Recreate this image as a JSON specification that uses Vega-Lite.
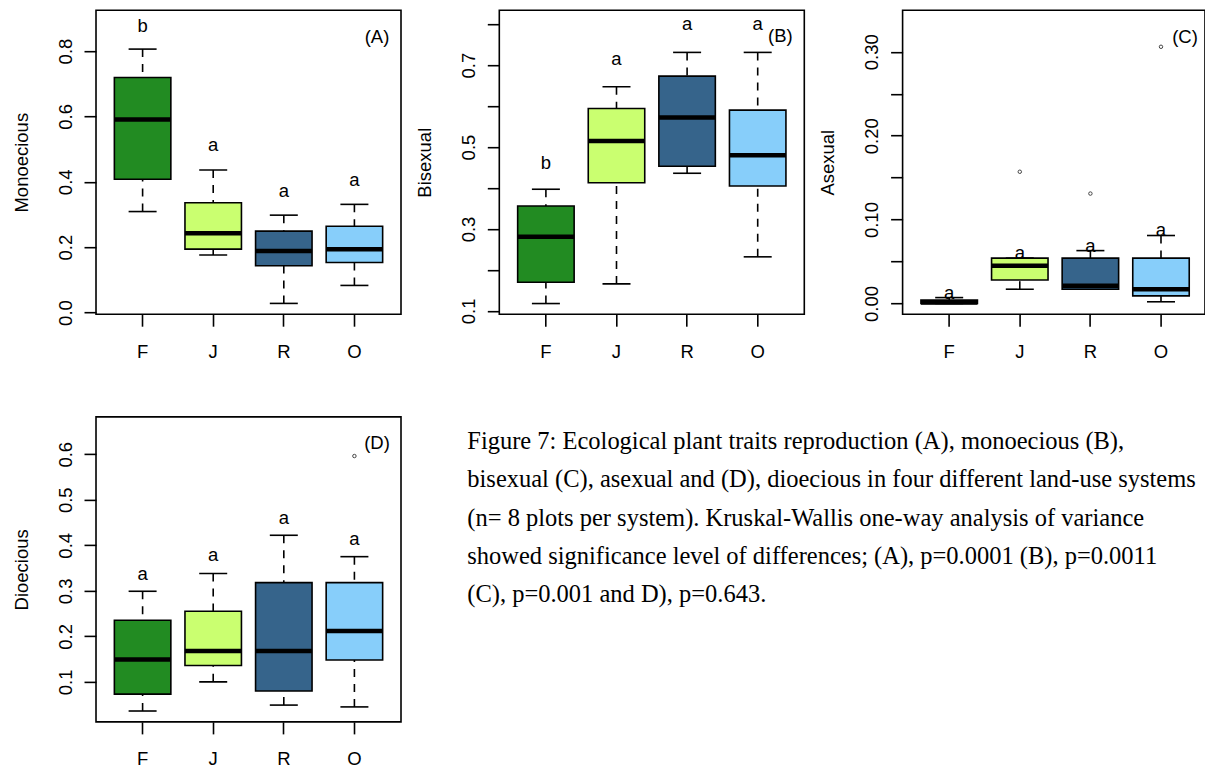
{
  "$schema": "https://vega.github.io/schema/vega-lite/v6.json",
  "background": "white",
  "padding": {"left": 11, "top": 9.2, "right": 0, "bottom": 0},
  "columns": 3,
  "spacing": {"row": 102.7, "column": 98.3},
  "bounds": "flush",
  "config": {
    "view": {"stroke": "black", "strokeWidth": 1.6},
    "font": "Liberation Sans",
    "axis": {"domain": false, "grid": false, "ticks": true, "tickColor": "black", "tickWidth": 1.6, "tickSize": 12, "labelColor": "black", "labelFont": "Liberation Sans", "labelFontSize": 18.5, "titleFont": "Liberation Sans", "titleFontSize": 18.5, "titleFontWeight": "normal", "titleColor": "black", "labelOverlap": false},
    "axisX": {"labelPadding": 16, "labelAngle": 0},
    "axisY": {"labelAngle": 270, "labelAlign": "center", "labelBaseline": "middle", "labelPadding": 19, "titleAngle": 270, "titleAlign": "center", "titleBaseline": "middle", "titleX": -75}
  },
  "datasets": {
    "A": [
      {"g": "F", "lo": 0.309, "q1": 0.408, "med": 0.591, "q3": 0.719, "hi": 0.806, "lt": "b", "ly": 0.877},
      {"g": "J", "lo": 0.176, "q1": 0.194, "med": 0.243, "q3": 0.336, "hi": 0.436, "lt": "a", "ly": 0.512},
      {"g": "R", "lo": 0.028, "q1": 0.143, "med": 0.188, "q3": 0.249, "hi": 0.298, "lt": "a", "ly": 0.372},
      {"g": "O", "lo": 0.083, "q1": 0.153, "med": 0.194, "q3": 0.264, "hi": 0.331, "lt": "a", "ly": 0.405}
    ],
    "B": [
      {"g": "F", "lo": 0.118, "q1": 0.170, "med": 0.281, "q3": 0.356, "hi": 0.397, "lt": "b", "ly": 0.46},
      {"g": "J", "lo": 0.166, "q1": 0.413, "med": 0.515, "q3": 0.594, "hi": 0.647, "lt": "a", "ly": 0.716},
      {"g": "R", "lo": 0.436, "q1": 0.453, "med": 0.572, "q3": 0.673, "hi": 0.731, "lt": "a", "ly": 0.80},
      {"g": "O", "lo": 0.232, "q1": 0.405, "med": 0.480, "q3": 0.590, "hi": 0.731, "lt": "a", "ly": 0.80}
    ],
    "C": [
      {"g": "F", "lo": 0.0, "q1": 0.0, "med": 0.001, "q3": 0.004, "hi": 0.007, "lt": "a", "ly": 0.012},
      {"g": "J", "lo": 0.017, "q1": 0.028, "med": 0.045, "q3": 0.054, "hi": 0.054, "lt": "a", "ly": 0.060},
      {"g": "R", "lo": 0.017, "q1": 0.017, "med": 0.021, "q3": 0.054, "hi": 0.063, "lt": "a", "ly": 0.069},
      {"g": "O", "lo": 0.002, "q1": 0.009, "med": 0.017, "q3": 0.054, "hi": 0.081, "lt": "a", "ly": 0.088}
    ],
    "Cout": [
      {"g": "J", "v": 0.157},
      {"g": "R", "v": 0.131},
      {"g": "O", "v": 0.306}
    ],
    "D": [
      {"g": "F", "lo": 0.036, "q1": 0.073, "med": 0.149, "q3": 0.2355, "hi": 0.299, "lt": "a", "ly": 0.338},
      {"g": "J", "lo": 0.100, "q1": 0.136, "med": 0.168, "q3": 0.255, "hi": 0.338, "lt": "a", "ly": 0.378},
      {"g": "R", "lo": 0.049, "q1": 0.080, "med": 0.168, "q3": 0.318, "hi": 0.422, "lt": "a", "ly": 0.461},
      {"g": "O", "lo": 0.045, "q1": 0.148, "med": 0.212, "q3": 0.318, "hi": 0.375, "lt": "a", "ly": 0.413}
    ],
    "Dout": [
      {"g": "O", "v": 0.596}
    ],
    "one": [{"k": 1}]
  },
  "concat": [
    {
      "width": 305, "height": 304,
      "data": {"name": "A"},
      "layer": [
        {"mark": {"type": "rule", "strokeDash": [8, 7], "strokeWidth": 1.6, "color": "black"},
         "encoding": {
           "x": {"field": "g", "type": "nominal", "sort": ["F", "J", "R", "O"], "scale": {"type": "band", "domain": ["F", "J", "R", "O"], "paddingInner": 0, "paddingOuter": 0.16}, "axis": {"title": null}, "title": null},
           "y": {"field": "hi", "type": "quantitative", "scale": {"domain": [-0.005, 0.925], "nice": false, "zero": false}, "axis": {"values": [0, 0.2, 0.4, 0.6, 0.8], "format": ".1f", "titleY": 152}, "title": "Monoecious"},
           "y2": {"field": "q3"}}},
        {"mark": {"type": "rule", "strokeDash": [8, 7], "strokeWidth": 1.6, "color": "black"},
         "encoding": {"x": {"field": "g", "type": "nominal", "title": null}, "y": {"field": "lo", "type": "quantitative", "title": "Monoecious"}, "y2": {"field": "q1"}}},
        {"mark": {"type": "tick", "size": 28, "thickness": 1.6, "color": "black", "opacity": 1},
         "encoding": {"x": {"field": "g", "type": "nominal", "title": null}, "y": {"field": "hi", "type": "quantitative", "title": "Monoecious"}}},
        {"mark": {"type": "tick", "size": 28, "thickness": 1.6, "color": "black", "opacity": 1},
         "encoding": {"x": {"field": "g", "type": "nominal", "title": null}, "y": {"field": "lo", "type": "quantitative", "title": "Monoecious"}}},
        {"mark": {"type": "bar", "width": {"band": 0.8}, "stroke": "black", "strokeWidth": 1.6},
         "encoding": {"x": {"field": "g", "type": "nominal", "title": null}, "y": {"field": "q1", "type": "quantitative", "title": "Monoecious"}, "y2": {"field": "q3"},
           "fill": {"field": "g", "type": "nominal", "scale": {"domain": ["F", "J", "R", "O"], "range": ["#228B22", "#CAFF70", "#36648B", "#87CEFA"]}, "legend": null}}},
        {"mark": {"type": "tick", "size": 56.5, "thickness": 4.5, "color": "black", "opacity": 1},
         "encoding": {"x": {"field": "g", "type": "nominal", "title": null}, "y": {"field": "med", "type": "quantitative", "title": "Monoecious"}}},
        {"mark": {"type": "text", "fontSize": 18.5, "baseline": "middle", "align": "center", "color": "black"},
         "encoding": {"x": {"field": "g", "type": "nominal", "title": null}, "y": {"field": "ly", "type": "quantitative", "title": "Monoecious"}, "text": {"field": "lt"}}},
        {"data": {"name": "one"},
         "mark": {"type": "text", "fontSize": 18.5, "baseline": "middle", "align": "center", "color": "black"},
         "encoding": {"x": {"datum": "O", "type": "nominal", "bandPosition": 0.82, "title": null}, "y": {"datum": 0.8437, "type": "quantitative", "title": "Monoecious"}, "text": {"value": "(A)"}}}
      ]
    },
    {
      "width": 305, "height": 304,
      "data": {"name": "B"},
      "layer": [
        {"mark": {"type": "rule", "strokeDash": [8, 7], "strokeWidth": 1.6, "color": "black"},
         "encoding": {
           "x": {"field": "g", "type": "nominal", "sort": ["F", "J", "R", "O"], "scale": {"type": "band", "domain": ["F", "J", "R", "O"], "paddingInner": 0, "paddingOuter": 0.16}, "axis": {"title": null}, "title": null},
           "y": {"field": "hi", "type": "quantitative", "scale": {"domain": [0.092, 0.834], "nice": false, "zero": false}, "axis": {"values": [0.1, 0.2, 0.3, 0.4, 0.5, 0.6, 0.7, 0.8], "labelExpr": "round(datum.value*10) % 2 == 1 ? format(datum.value, '.1f') : ''", "titleY": 152}, "title": "Bisexual"},
           "y2": {"field": "q3"}}},
        {"mark": {"type": "rule", "strokeDash": [8, 7], "strokeWidth": 1.6, "color": "black"},
         "encoding": {"x": {"field": "g", "type": "nominal", "title": null}, "y": {"field": "lo", "type": "quantitative", "title": "Bisexual"}, "y2": {"field": "q1"}}},
        {"mark": {"type": "tick", "size": 28, "thickness": 1.6, "color": "black", "opacity": 1},
         "encoding": {"x": {"field": "g", "type": "nominal", "title": null}, "y": {"field": "hi", "type": "quantitative", "title": "Bisexual"}}},
        {"mark": {"type": "tick", "size": 28, "thickness": 1.6, "color": "black", "opacity": 1},
         "encoding": {"x": {"field": "g", "type": "nominal", "title": null}, "y": {"field": "lo", "type": "quantitative", "title": "Bisexual"}}},
        {"mark": {"type": "bar", "width": {"band": 0.8}, "stroke": "black", "strokeWidth": 1.6},
         "encoding": {"x": {"field": "g", "type": "nominal", "title": null}, "y": {"field": "q1", "type": "quantitative", "title": "Bisexual"}, "y2": {"field": "q3"},
           "fill": {"field": "g", "type": "nominal", "scale": {"domain": ["F", "J", "R", "O"], "range": ["#228B22", "#CAFF70", "#36648B", "#87CEFA"]}, "legend": null}}},
        {"mark": {"type": "tick", "size": 56.5, "thickness": 4.5, "color": "black", "opacity": 1},
         "encoding": {"x": {"field": "g", "type": "nominal", "title": null}, "y": {"field": "med", "type": "quantitative", "title": "Bisexual"}}},
        {"mark": {"type": "text", "fontSize": 18.5, "baseline": "middle", "align": "center", "color": "black"},
         "encoding": {"x": {"field": "g", "type": "nominal", "title": null}, "y": {"field": "ly", "type": "quantitative", "title": "Bisexual"}, "text": {"field": "lt"}}},
        {"data": {"name": "one"},
         "mark": {"type": "text", "fontSize": 18.5, "baseline": "middle", "align": "center", "color": "black"},
         "encoding": {"x": {"datum": "O", "type": "nominal", "bandPosition": 0.82, "title": null}, "y": {"datum": 0.7708, "type": "quantitative", "title": "Bisexual"}, "text": {"value": "(B)"}}}
      ]
    },
    {
      "width": 302.4, "height": 304,
      "data": {"name": "C"},
      "layer": [
        {"mark": {"type": "rule", "strokeDash": [8, 7], "strokeWidth": 1.6, "color": "black"},
         "encoding": {
           "x": {"field": "g", "type": "nominal", "sort": ["F", "J", "R", "O"], "scale": {"type": "band", "domain": ["F", "J", "R", "O"], "paddingInner": 0, "paddingOuter": 0.1416, "align": 0.565}, "axis": {"title": null}, "title": null},
           "y": {"field": "hi", "type": "quantitative", "scale": {"domain": [-0.0128, 0.3496], "nice": false, "zero": false}, "axis": {"values": [0, 0.05, 0.1, 0.15, 0.2, 0.25, 0.3], "labelExpr": "round(datum.value*100) % 10 == 0 ? format(datum.value, '.2f') : ''", "titleY": 152}, "title": "Asexual"},
           "y2": {"field": "q3"}}},
        {"mark": {"type": "rule", "strokeDash": [8, 7], "strokeWidth": 1.6, "color": "black"},
         "encoding": {"x": {"field": "g", "type": "nominal", "title": null}, "y": {"field": "lo", "type": "quantitative", "title": "Asexual"}, "y2": {"field": "q1"}}},
        {"mark": {"type": "tick", "size": 28, "thickness": 1.6, "color": "black", "opacity": 1},
         "encoding": {"x": {"field": "g", "type": "nominal", "title": null}, "y": {"field": "hi", "type": "quantitative", "title": "Asexual"}}},
        {"mark": {"type": "tick", "size": 28, "thickness": 1.6, "color": "black", "opacity": 1},
         "encoding": {"x": {"field": "g", "type": "nominal", "title": null}, "y": {"field": "lo", "type": "quantitative", "title": "Asexual"}}},
        {"mark": {"type": "bar", "width": {"band": 0.8}, "stroke": "black", "strokeWidth": 1.6},
         "encoding": {"x": {"field": "g", "type": "nominal", "title": null}, "y": {"field": "q1", "type": "quantitative", "title": "Asexual"}, "y2": {"field": "q3"},
           "fill": {"field": "g", "type": "nominal", "scale": {"domain": ["F", "J", "R", "O"], "range": ["#228B22", "#CAFF70", "#36648B", "#87CEFA"]}, "legend": null}}},
        {"mark": {"type": "tick", "size": 56.5, "thickness": 4.5, "color": "black", "opacity": 1},
         "encoding": {"x": {"field": "g", "type": "nominal", "title": null}, "y": {"field": "med", "type": "quantitative", "title": "Asexual"}}},
        {"data": {"name": "Cout"},
         "mark": {"type": "point", "shape": "circle", "filled": false, "size": 12, "strokeWidth": 1, "color": "#444444", "opacity": 1},
         "encoding": {"x": {"field": "g", "type": "nominal", "title": null}, "y": {"field": "v", "type": "quantitative", "title": "Asexual"}}},
        {"mark": {"type": "text", "fontSize": 18.5, "baseline": "middle", "align": "center", "color": "black"},
         "encoding": {"x": {"field": "g", "type": "nominal", "title": null}, "y": {"field": "ly", "type": "quantitative", "title": "Asexual"}, "text": {"field": "lt"}}},
        {"data": {"name": "one"},
         "mark": {"type": "text", "fontSize": 18.5, "baseline": "middle", "align": "center", "color": "black"},
         "encoding": {"x": {"datum": "O", "type": "nominal", "bandPosition": 0.84, "title": null}, "y": {"datum": 0.3178, "type": "quantitative", "title": "Asexual"}, "text": {"value": "(C)"}}}
      ]
    },
    {
      "width": 305, "height": 305,
      "data": {"name": "D"},
      "layer": [
        {"mark": {"type": "rule", "strokeDash": [8, 7], "strokeWidth": 1.6, "color": "black"},
         "encoding": {
           "x": {"field": "g", "type": "nominal", "sort": ["F", "J", "R", "O"], "scale": {"type": "band", "domain": ["F", "J", "R", "O"], "paddingInner": 0, "paddingOuter": 0.16}, "axis": {"title": null}, "title": null},
           "y": {"field": "hi", "type": "quantitative", "scale": {"domain": [0.0121, 0.682], "nice": false, "zero": false}, "axis": {"values": [0.1, 0.2, 0.3, 0.4, 0.5, 0.6], "format": ".1f", "titleY": 152.5}, "title": "Dioecious"},
           "y2": {"field": "q3"}}},
        {"mark": {"type": "rule", "strokeDash": [8, 7], "strokeWidth": 1.6, "color": "black"},
         "encoding": {"x": {"field": "g", "type": "nominal", "title": null}, "y": {"field": "lo", "type": "quantitative", "title": "Dioecious"}, "y2": {"field": "q1"}}},
        {"mark": {"type": "tick", "size": 28, "thickness": 1.6, "color": "black", "opacity": 1},
         "encoding": {"x": {"field": "g", "type": "nominal", "title": null}, "y": {"field": "hi", "type": "quantitative", "title": "Dioecious"}}},
        {"mark": {"type": "tick", "size": 28, "thickness": 1.6, "color": "black", "opacity": 1},
         "encoding": {"x": {"field": "g", "type": "nominal", "title": null}, "y": {"field": "lo", "type": "quantitative", "title": "Dioecious"}}},
        {"mark": {"type": "bar", "width": {"band": 0.8}, "stroke": "black", "strokeWidth": 1.6},
         "encoding": {"x": {"field": "g", "type": "nominal", "title": null}, "y": {"field": "q1", "type": "quantitative", "title": "Dioecious"}, "y2": {"field": "q3"},
           "fill": {"field": "g", "type": "nominal", "scale": {"domain": ["F", "J", "R", "O"], "range": ["#228B22", "#CAFF70", "#36648B", "#87CEFA"]}, "legend": null}}},
        {"mark": {"type": "tick", "size": 56.5, "thickness": 4.5, "color": "black", "opacity": 1},
         "encoding": {"x": {"field": "g", "type": "nominal", "title": null}, "y": {"field": "med", "type": "quantitative", "title": "Dioecious"}}},
        {"data": {"name": "Dout"},
         "mark": {"type": "point", "shape": "circle", "filled": false, "size": 12, "strokeWidth": 1, "color": "#444444", "opacity": 1},
         "encoding": {"x": {"field": "g", "type": "nominal", "title": null}, "y": {"field": "v", "type": "quantitative", "title": "Dioecious"}}},
        {"mark": {"type": "text", "fontSize": 18.5, "baseline": "middle", "align": "center", "color": "black"},
         "encoding": {"x": {"field": "g", "type": "nominal", "title": null}, "y": {"field": "ly", "type": "quantitative", "title": "Dioecious"}, "text": {"field": "lt"}}},
        {"data": {"name": "one"},
         "mark": {"type": "text", "fontSize": 18.5, "baseline": "middle", "align": "center", "color": "black"},
         "encoding": {"x": {"datum": "O", "type": "nominal", "bandPosition": 0.82, "title": null}, "y": {"datum": 0.6236, "type": "quantitative", "title": "Dioecious"}, "text": {"value": "(D)"}}}
      ]
    },
    {
      "width": 305, "height": 305,
      "view": {"stroke": null},
      "data": {"values": [
        {"line": 1, "text": "Figure 7: Ecological plant traits reproduction (A), monoecious (B),"},
        {"line": 2, "text": "bisexual (C), asexual and (D), dioecious in four different land-use systems"},
        {"line": 3, "text": "(n= 8 plots per system). Kruskal-Wallis one-way analysis of variance"},
        {"line": 4, "text": "showed significance level of differences; (A), p=0.0001 (B), p=0.0011"},
        {"line": 5, "text": "(C), p=0.001 and D), p=0.643."}
      ]},
      "mark": {"type": "text", "font": "Liberation Serif", "fontSize": 24.5, "align": "left", "baseline": "alphabetic", "color": "black", "dx": -32},
      "encoding": {
        "x": {"value": 0},
        "y": {"field": "line", "type": "quantitative", "scale": {"domain": [0.157, 8.12], "reverse": true, "nice": false, "zero": false}, "axis": null},
        "text": {"field": "text"}
      }
    }
  ]
}
